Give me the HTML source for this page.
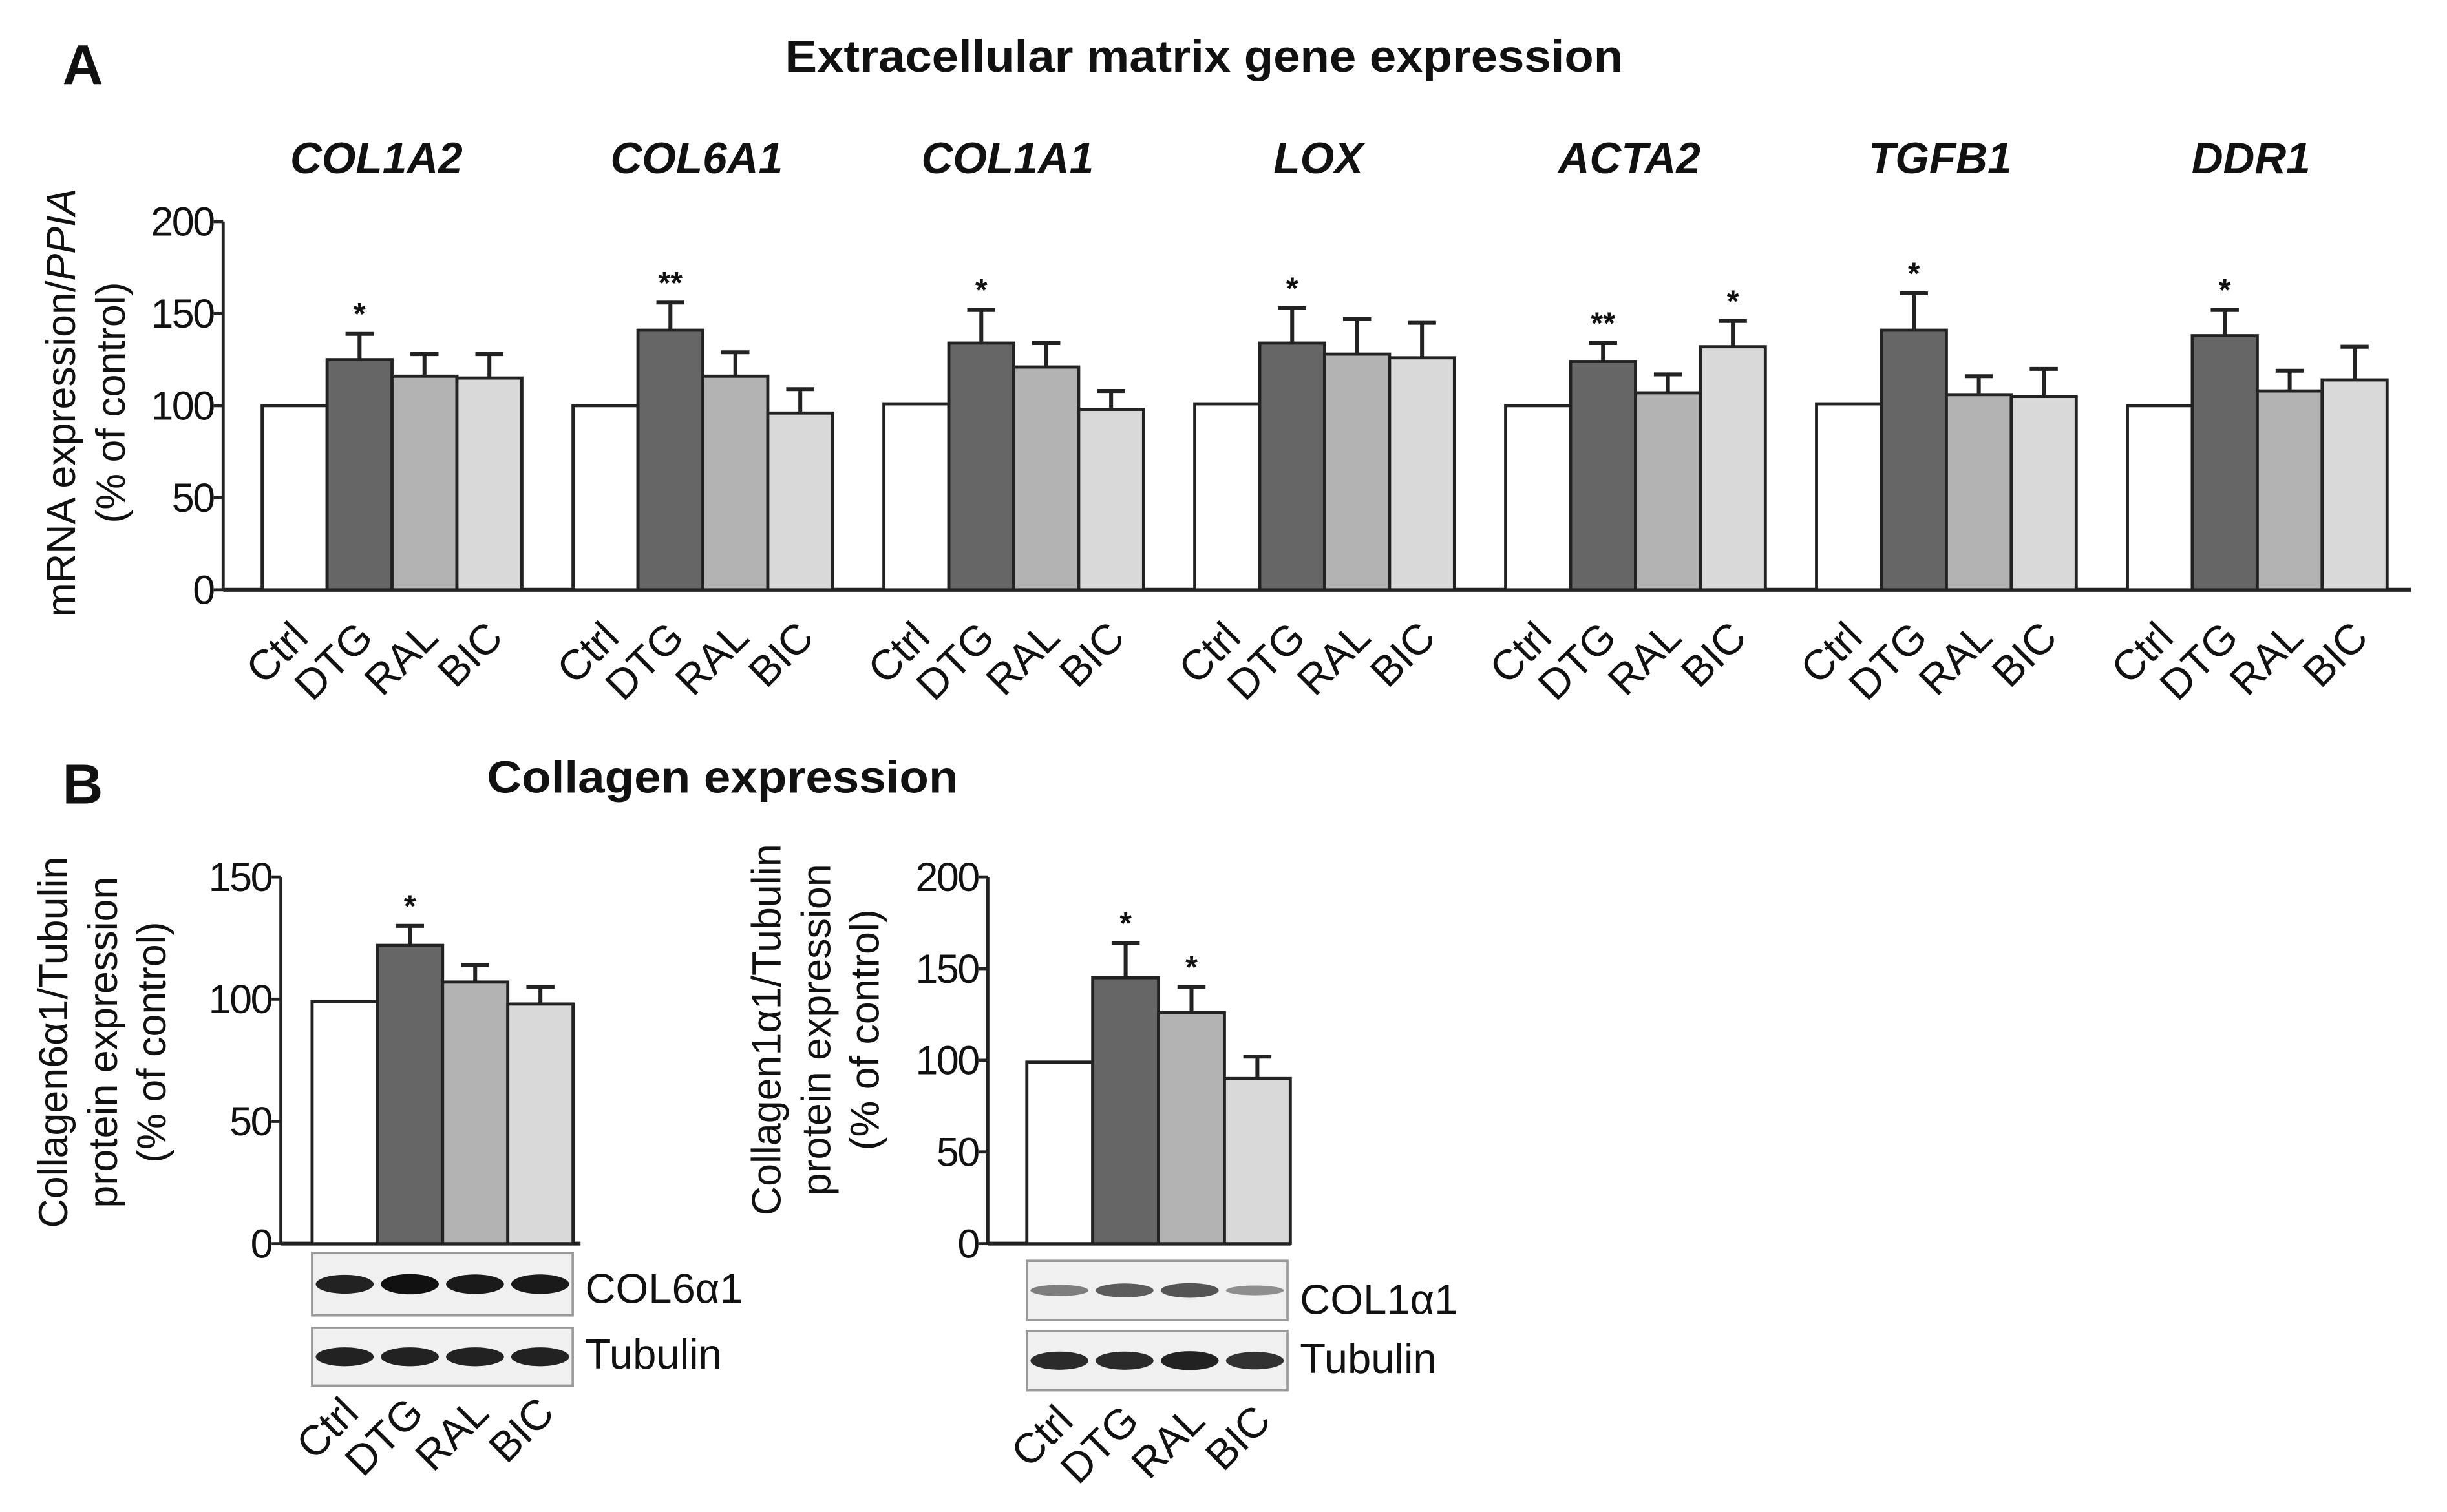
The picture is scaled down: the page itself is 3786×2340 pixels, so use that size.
<!DOCTYPE html>
<html><head><meta charset="utf-8"><style>
html,body{margin:0;padding:0;background:#fff}
svg{display:block}
text{font-family:"Liberation Sans Narrow","Liberation Sans",sans-serif;fill:#111}
</style></head><body>
<svg id="fig" width="3786" height="2340" viewBox="0 0 1568 969" preserveAspectRatio="none" xmlns="http://www.w3.org/2000/svg">
<text x="40" y="54" font-size="36" font-weight="bold">A</text>
<text x="503" y="46" font-size="29" font-weight="bold" textLength="537" lengthAdjust="spacingAndGlyphs">Extracellular matrix gene expression</text>
<text x="40" y="515" font-size="36" font-weight="bold">B</text>
<text x="312" y="508" font-size="29" font-weight="bold" textLength="302" lengthAdjust="spacingAndGlyphs">Collagen expression</text>
<g id="gA"></g><g id="gB1"></g><g id="gB2"></g>
</svg>
<script>
const groupsA = ["COL1A2","COL6A1","COL1A1","LOX","ACTA2","TGFB1","DDR1"];
const treatments = ["Ctrl","DTG","RAL","BIC"];
const meansA = [[100,125,116,115],[100,141,116,96],[101,134,121,98],[101,134,128,126],[100,124,107,132],[101,141,106,105],[100,138,108,114]];
const errA = [[0,14,12,13],[0,15,13,13],[0,18,13,10],[0,19,19,19],[0,10,10,14],[0,20,10,15],[0,14,11,18]];
const starsA = [["","*","",""],["","**","",""],["","*","",""],["","*","",""],["","**","","*"],["","*","",""],["","*","",""]];
const ticksA = [0,50,100,150,200];
const meansB1 = [99,122,107,98];
const errB1 = [0,8,7,7];
const starsB1 = ["","*","",""];
const ticksB1 = [0,50,100,150];
const meansB2 = [99,145,126,90];
const errB2 = [0,19,14,12];
const starsB2 = ["","*","*",""];
const ticksB2 = [0,50,100,150,200];
const band1 = [0.9,1,0.95,0.95];
const band2 = [0.35,0.55,0.6,0.25];

const NS="http://www.w3.org/2000/svg";
const fills=["#ffffff","#666666","#b3b3b3","#d9d9d9"];
function mk(parent,tag,attrs){const e=document.createElementNS(NS,tag);for(const k in attrs)e.setAttribute(k,attrs[k]);parent.appendChild(e);return e;}
function txt(parent,x,y,s,attrs){const t=mk(parent,"text",Object.assign({x:x,y:y},attrs||{}));t.textContent=s;return t;}

function yAxis(g,x,y0,yTop,ticks,xEnd,name){
  const max=ticks[ticks.length-1];
  const sc=v=>y0-(v/max)*(y0-yTop);
  const ax=mk(g,"line",{x1:x,y1:yTop,x2:x,y2:y0,stroke:"#222","stroke-width":2});
  
  
  const bx=mk(g,"line",{x1:x,y1:y0,x2:xEnd,y2:y0,stroke:"#222","stroke-width":2.5});
  
  
  ticks.forEach(t=>{
    const yy=sc(t);
    mk(g,"line",{x1:x-6,y1:yy,x2:x,y2:yy,stroke:"#222","stroke-width":2});
    const l=txt(g,x-6,yy+9,String(t),{"font-size":26,"text-anchor":"end","letter-spacing":"-1"});
    
    
  });
  return sc;
}
function xlab(g,cx,cy,s,name){
  const l=txt(g,cx,cy,s,{"font-size":27,"text-anchor":"end",transform:`rotate(-45 ${cx} ${cy})`,"font-family":"Liberation Sans, sans-serif"});
  
  
}
function bars(g,x0,bw,sc,y0,means,errs,stars,name,labelY){
  means.forEach((v,i)=>{
    const x=x0+i*bw, y=sc(v);
    if(errs[i]>0){
      const ye=sc(v+errs[i]), cx=x+bw/2;
      const e=mk(g,"path",{d:`M${cx},${y} V${ye} M${cx-9},${ye} H${cx+9}`,stroke:"#222","stroke-width":2.5,fill:"none"});
      
      
      if(stars[i]){
        const s=txt(g,cx,ye-6,stars[i],{"font-size":20,"text-anchor":"middle","font-weight":"bold"});
        
        
      }
    }
    const r=mk(g,"rect",{x:x,y:y,width:bw,height:y0-y,fill:fills[i],stroke:"#222","stroke-width":2});
    
    
    if(labelY!==null) xlab(g,x+bw/2+10,labelY,treatments[i],name);
  });
}
function ylabel(g,lines,xs,cy,name){
  lines.forEach((s,i)=>{
    const t=txt(g,xs[i],cy,"",{"font-size":26,"text-anchor":"middle",transform:`rotate(-90 ${xs[i]} ${cy})`,"font-family":"Liberation Sans, sans-serif"});
    if(Array.isArray(s)){s.forEach(p=>{const ts=mk(t,"tspan",p[1]?{"font-style":"italic"}:{});ts.textContent=p[0];});}
    else t.textContent=s;
    
    
  });
}
// Panel A
(function(){
  const g=document.getElementById("gA");
  const y0=378, yTop=142;
  const sc=yAxis(g,143,y0,yTop,ticksA,1545,"panel-a");
  groupsA.forEach((gn,k)=>{
    const x0=168+k*199.2, bw=41.6;
    const gg=mk(g,"g",{});
    
    
    bars(gg,x0,bw,sc,y0,meansA[k],errA[k],starsA[k],gn.toLowerCase(),410);
    const t=txt(gg,x0+2*bw-4+(k===0?-6:0),111,gn,{"font-size":28,"font-weight":"bold","font-style":"italic","text-anchor":"middle"});
    
    
  });
  ylabel(g,[[["mRNA expression/",0],["PPIA",1]],"(% of control)"],[48,80],258,"panel-a");
})();
function blot(g,x,y,w,h,inten,name,label,ly){
  const r=mk(g,"rect",{x:x,y:y,width:w,height:h,fill:"#f0f0f0",stroke:"#999","stroke-width":1.5});
  
  
  inten.forEach((v,i)=>{
    const cx=x+w*(i+0.5)/4;
    const e=mk(g,"ellipse",{cx:cx,cy:y+h/2,rx:w/9,ry:2+4.5*v,fill:"#111","fill-opacity":0.25+0.75*v});
    
    
  });
  const t=txt(g,x+w+8,ly,label,{"font-size":27});
  
  
}
// Panel B1
(function(){
  const g=document.getElementById("gB1");
  const sc=yAxis(g,180,797,562,ticksB1,372,"col6");
  bars(g,200,41.8,sc,797,meansB1,errB1,starsB1,"col6",null);
  blot(g,200,803,167,40,band1,"col6a1","COL6α1",835);
  blot(g,200,851,167,37,[0.9,0.9,0.9,0.9],"tubulin-1","Tubulin",877);
  meansB1.forEach((v,i)=>xlab(g,200+41.8*i+31,907,treatments[i],"col6"));
  ylabel(g,["Collagen6α1/Tubulin","protein expression","(% of control)"],[43,75,106],668,"col6");
})();
// Panel B2
(function(){
  const g=document.getElementById("gB2");
  const sc=yAxis(g,633,797,562,ticksB2,827,"col1");
  bars(g,658,42.2,sc,797,meansB2,errB2,starsB2,"col1",null);
  blot(g,658,808,167,38,band2,"col1a1","COL1α1",842);
  blot(g,658,853,167,38,[0.85,0.85,0.9,0.8],"tubulin-2","Tubulin",880);
  meansB2.forEach((v,i)=>xlab(g,658+42.2*i+31,912,treatments[i],"col1"));
  ylabel(g,["Collagen1α1/Tubulin","protein expression","(% of control)"],[500,532,563],660,"col1");
})();
</script>
</body></html>
